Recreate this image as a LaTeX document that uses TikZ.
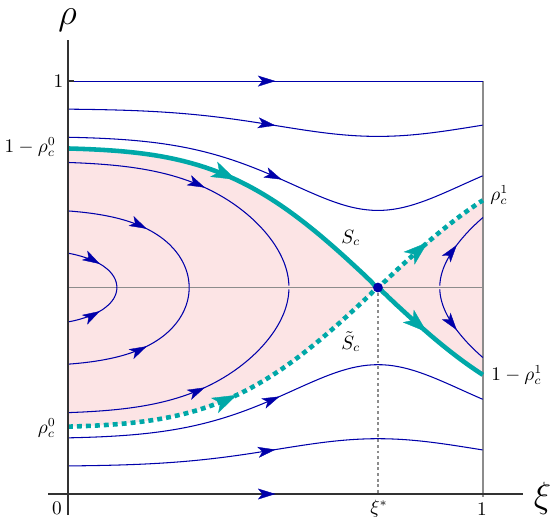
\documentclass[tikz,border=0pt]{standalone}
\usetikzlibrary{arrows.meta}
\definecolor{flowblue}{RGB}{0,0,170}
\definecolor{septeal}{RGB}{0,168,168}
\definecolor{pinkfill}{RGB}{252,228,229}
\definecolor{gridgray}{RGB}{140,140,140}
\definecolor{axisdark}{RGB}{50,50,50}
\pgfmathdeclarefunction{phif}{1}{\pgfmathparse{0.54+0.46*exp(-((#1)-0.747)*((#1)-0.747)/0.13)}}
\pgfmathdeclarefunction{ru}{2}{\pgfmathparse{0.5+sqrt(max(0,0.25-(#2)*phif(#1)))}}
\pgfmathdeclarefunction{rl}{2}{\pgfmathparse{0.5-sqrt(max(0,0.25-(#2)*phif(#1)))}}
\begin{document}
\begin{tikzpicture}[x=0.02cm,y=-0.02cm,
  flow/.style={draw=flowblue, line width=0.6pt},
  barrow/.style={draw=flowblue, fill=flowblue, line width=0.2pt, -{Stealth[length=10pt,width=6.2pt,inset=2.5pt]}},
  tarrow/.style={draw=septeal, fill=septeal, line width=0.2pt, -{Stealth[length=14pt,width=9.5pt,inset=3.5pt]}},
  sep/.style={draw=septeal, line width=2.6pt},
  sepdot/.style={draw=septeal, line width=2.6pt, line cap=butt, dash pattern=on 2.8pt off 2.3pt},
  gridline/.style={draw=gridgray, line width=0.85pt},
  gridlinedot/.style={draw=gridgray, line width=0.8pt, dash pattern=on 1.6pt off 1.6pt},
  axisline/.style={draw=axisdark, line width=1.2pt},
  lab/.style={inner sep=0pt, text=black, font=\fontsize{10.5}{12.5}\selectfont},
  biglab/.style={inner sep=0pt, text=black, font=\fontsize{21}{25}\selectfont}]
\useasboundingbox (0,0) rectangle (558,525);
\pgfmathsetmacro\Ktwo{0.116}
\pgfmathsetmacro\Kthree{0.2151}
\pgfmathsetmacro\sa{0.118}
\pgfmathsetmacro\sb{0.292}
\pgfmathsetmacro\sc{0.5325}
\pgfmathsetmacro\sr{0.896}
\pgfmathsetmacro\Ka{0.25/phif(\sa)}
\pgfmathsetmacro\Kb{0.25/phif(\sb)}
\pgfmathsetmacro\Kc{0.25/phif(\sc)}
\pgfmathsetmacro\Kr{0.25/phif(\sr)}
\begin{scope}[shift={(68,494)}, x={(8.3cm,0)}, y={(0,8.26cm)}]
  % pink region between the separatrices
  \fill[pinkfill] plot[domain=0:0.747,samples=90] (\x,{ru(\x,0.25)})
     -- plot[domain=0.747:1,samples=40] (\x,{ru(\x,0.25)})
     -- plot[domain=0:0.253,samples=40] ({1-\x},{rl(1-\x,0.25)})
     -- plot[domain=0.253:1,samples=90] ({1-\x},{rl(1-\x,0.25)}) -- cycle;
  % grey reference lines
  \draw[gridline] (0,0.5) -- (1,0.5);
  \draw[gridline] (1,1) -- (1,-0.008);
  \draw[gridlinedot] (0.747,0.5) -- (0.747,0);
  % blue flow lines crossing the whole strip
  \draw[flow] (0,1) -- (1,1);
  \draw[flow] plot[domain=0:1,samples=80] (\x,{ru(\x,\Ktwo)});
  \draw[flow] plot[domain=0:1,samples=80] (\x,{ru(\x,\Kthree)});
  \draw[flow] plot[domain=0:1,samples=80] (\x,{rl(\x,\Kthree)});
  \draw[flow] plot[domain=0:1,samples=80] (\x,{rl(\x,\Ktwo)});
  % left arcs
  \foreach \st/\K in {\sa/\Ka,\sb/\Kb,\sc/\Kc}{
    \draw[flow] plot[domain=0:1,samples=60,variable=\t] ({\st*(1-(1-\t)*(1-\t))},{ru(\st*(1-(1-\t)*(1-\t)),\K)});
    \draw[flow] plot[domain=0:1,samples=60,variable=\t] ({\st*(1-(1-\t)*(1-\t))},{rl(\st*(1-(1-\t)*(1-\t)),\K)});
  }
  % right arc
  \draw[flow] plot[domain=0:1,samples=40,variable=\t] ({\sr+(1-\sr)*\t*\t},{ru(\sr+(1-\sr)*\t*\t,\Kr)});
  \draw[flow] plot[domain=0:1,samples=40,variable=\t] ({\sr+(1-\sr)*\t*\t},{rl(\sr+(1-\sr)*\t*\t,\Kr)});
  % separatrices
  \draw[sep] plot[domain=0:0.747,samples=90] (\x,{ru(\x,0.25)})
     -- plot[domain=0.747:1,samples=40] (\x,{rl(\x,0.25)});
  \draw[sepdot] plot[domain=0:0.747,samples=90] (\x,{rl(\x,0.25)})
     -- plot[domain=0.747:1,samples=40] (\x,{ru(\x,0.25)});
  % axes
  \draw[axisline] (-0.048,0) -- (1.096,0);
  \draw[axisline] (0,-0.051) -- (0,1.099);
  \draw[axisdark, line width=0.8pt] (0,1) -- (0.014,1);
  % blue arrows
  \draw[barrow] (0.49,1) -- (0.5,1);
  \draw[barrow] (0.49,0) -- (0.5,0);
  \draw[barrow] (0.495,{ru(0.495,\Ktwo)}) -- (0.5,{ru(0.5,\Ktwo)});
  \draw[barrow] (0.51,{ru(0.51,\Kthree)}) -- (0.515,{ru(0.515,\Kthree)});
  \draw[barrow] (0.505,{rl(0.505,\Kthree)}) -- (0.51,{rl(0.51,\Kthree)});
  \draw[barrow] (0.495,{rl(0.495,\Ktwo)}) -- (0.5,{rl(0.5,\Ktwo)});
  \draw[barrow] (0.072,{ru(0.072,\Ka)}) -- (0.077,{ru(0.077,\Ka)});
  \draw[barrow] (0.072,{rl(0.072,\Ka)}) -- (0.077,{rl(0.077,\Ka)});
  \draw[barrow] (0.185,{ru(0.185,\Kb)}) -- (0.19,{ru(0.19,\Kb)});
  \draw[barrow] (0.185,{rl(0.185,\Kb)}) -- (0.19,{rl(0.19,\Kb)});
  \draw[barrow] (0.325,{ru(0.325,\Kc)}) -- (0.33,{ru(0.33,\Kc)});
  \draw[barrow] (0.325,{rl(0.325,\Kc)}) -- (0.33,{rl(0.33,\Kc)});
  \draw[barrow] (0.934,{ru(0.934,\Kr)}) -- (0.937,{ru(0.937,\Kr)});
  \draw[barrow] (0.934,{rl(0.934,\Kr)}) -- (0.937,{rl(0.937,\Kr)});
  % teal arrows
  \draw[tarrow] (0.4,{ru(0.4,0.25)}) -- (0.405,{ru(0.405,0.25)});
  \draw[tarrow] (0.86,{rl(0.86,0.25)}) -- (0.865,{rl(0.865,0.25)});
  \draw[tarrow] (0.402,{rl(0.402,0.25)}) -- (0.407,{rl(0.407,0.25)});
  \draw[tarrow] (0.862,{ru(0.862,0.25)}) -- (0.867,{ru(0.867,0.25)});
  % saddle point
  \fill[flowblue] (0.747,0.5) circle (2.8pt);
\end{scope}
% labels
\node[biglab] (rholab) at (67.5,20.5) {$\rho$};
\node[biglab] (xilab) at (542.5,498.5) {$\xi$};
\node[lab] (onerho) at (58.5,81.5) {$1$};
\node[lab, anchor=base east] (onemrc0) at (56,152) {$1-\rho_c^0$};
\node[lab, anchor=base east] (rc0) at (56,433) {$\rho_c^0$};
\node[lab, anchor=base west] (rc1) at (490,200) {$\rho_c^1$};
\node[lab, anchor=base west] (onemrc1) at (491,380) {$1-\rho_c^1$};
\node[lab, anchor=base west] (sclab) at (341,243) {$S_c$};
\node[lab, anchor=base west] (tsclab) at (341,349) {$\tilde S_c$};
\node[lab] (zero) at (57,508) {$0$};
\node[lab] (xistar) at (379,509) {$\xi^*$};
\node[lab] (onexi) at (482,509) {$1$};
\end{tikzpicture}
\end{document}
